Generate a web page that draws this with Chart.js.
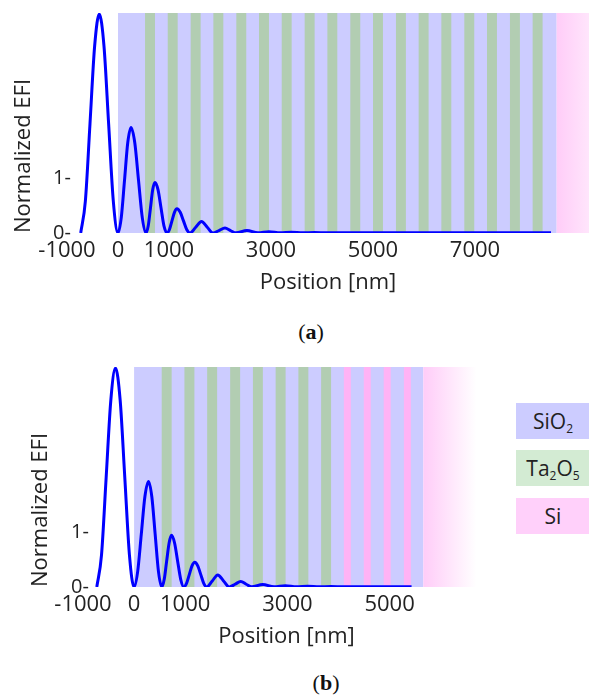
<!DOCTYPE html>
<html>
<head>
<meta charset="utf-8">
<script src="https://cdn.jsdelivr.net/npm/chart.js@4.4.0/dist/chart.umd.min.js"></script>
<style>
  body { margin: 0; background: #fff; width: 589px; height: 698px; position: relative; overflow: hidden; font-family: 'Open Sans', sans-serif; }
  .panel { position: absolute; left: 0; }
  .cap { position: absolute; font-family: 'Liberation Serif', serif; font-size: 22px; color: #111; transform: translateX(-50%); line-height: 24px; }
  .leg { position: absolute; left: 516px; width: 74px; height: 36px; line-height: 36px; text-align: center; font-size: 21px; color: #222; }
  .leg sub { font-size: 12px; vertical-align: -4px; line-height: 0; }
</style>
</head>
<body>
<canvas id="chart-a" class="panel" style="top:0" width="589" height="300"></canvas>
<canvas id="chart-b" class="panel" style="top:354px" width="490" height="300"></canvas>
<div class="cap" style="left:311px;top:320px">(<b>a</b>)</div>
<div class="cap" style="left:326px;top:671px">(<b>b</b>)</div>
<div class="leg" style="top:403px;background:#ccccff">SiO<sub>2</sub></div>
<div class="leg" style="top:450px;background:#d3ebd3">Ta<sub>2</sub>O<sub>5</sub></div>
<div class="leg" style="top:498px;background:#ffd0fa">Si</div>
<script>
// --- Data (positions in nm) ---

// panel (a)
const posA = [-731, -640, -549, -458, -367, -275, -184, -92,
  0, 64, 128, 191, 255, 329, 402, 476,
  549, 593, 637, 681, 725, 784, 843, 901,
  960, 1009, 1058, 1107, 1156, 1220, 1284, 1347,
  1411, 1524, 1637, 1750,
  1862, 1980, 2097, 2205,
  2313, 2528, 2744, 2960, 3180, 3400, 3620, 3850, 4100, 8490];
const efiA = [0, 0.58, 1.99, 3.4, 3.98, 3.4, 1.99, 0.58,
  0, 0.28, 0.96, 1.64, 1.92, 1.64, 0.96, 0.28,
  0, 0.13, 0.46, 0.79, 0.92, 0.79, 0.46, 0.13,
  0, 0.064, 0.22, 0.376, 0.44, 0.376, 0.22, 0.064,
  0, 0.105, 0.21, 0.105,
  0, 0.045, 0.09, 0.045,
  0.003, 0.045, 0.003, 0.022, 0.003, 0.012, 0.003, 0.007, 0.003, 0.003];
const xTicksA = [-1000, 0, 1000, 3000, 5000, 7000];
const sio2A = [0, 8600];
const ta2o5A = [530, 975, 1425, 1870, 2320, 2765, 3210, 3660, 4105, 4555, 5000, 5450, 5895, 6340, 6790, 7235, 7685, 8130];
const siLayersA = [];
const substrateA = [8600, 9900];

// panel (b)
const posB = [-730, -638, -547, -455, -364, -273, -182, -91,
  0, 70, 141, 211, 282, 347, 412, 477,
  542, 590, 637, 685, 732, 792, 852, 912,
  972, 1026, 1080, 1133, 1187, 1246, 1305, 1363,
  1422, 1530, 1637, 1750,
  1862, 1975, 2087, 2194,
  2300, 2517, 2740, 2960, 3180, 3400, 3620, 3850, 4100, 5430];
const efiB = [0, 0.58, 1.99, 3.4, 3.98, 3.4, 1.99, 0.58,
  0, 0.28, 0.96, 1.64, 1.92, 1.64, 0.96, 0.28,
  0, 0.14, 0.47, 0.8, 0.94, 0.8, 0.47, 0.14,
  0, 0.066, 0.225, 0.384, 0.45, 0.384, 0.225, 0.066,
  0, 0.11, 0.22, 0.11,
  0, 0.05, 0.1, 0.05,
  0.003, 0.045, 0.003, 0.022, 0.003, 0.012, 0.003, 0.007, 0.003, 0.003];
const xTicksB = [-1000, 0, 1000, 3000, 5000];
const sio2B = [0, 5660];
const ta2o5B = [540, 985, 1430, 1880, 2325, 2770, 3215, 3660];
const siLayersB = [4105, 4495, 4885, 5280];
const substrateB = [5660, 6700];

const yTicks = [0, 1];
const TA_THICK = 195;
const SI_THICK = 137;

const FONT = "'Open Sans', sans-serif";
const TEXT = '#222';

// --- Layer bands, drawn behind the curve ---
const bandsPlugin = {
  id: 'bands',
  beforeDatasetsDraw(chart, args, opts) {
    const { ctx, chartArea: a, scales: { x } } = chart;
    const rect = (from, to, fill) => {
      const x0 = x.getPixelForValue(from);
      const x1 = x.getPixelForValue(to);
      ctx.fillStyle = fill;
      ctx.fillRect(x0, a.top, x1 - x0, a.bottom - a.top);
    };
    ctx.save();
    ctx.beginPath();
    ctx.rect(a.left, a.top, a.right - a.left, a.bottom - a.top);
    ctx.clip();
    rect(opts.sio2[0], opts.sio2[1], '#ccccff');
    opts.ta2o5.forEach(s => rect(s, s + TA_THICK, '#b2cdb2'));
    opts.si.forEach(s => rect(s, s + SI_THICK, '#ffb3f5'));
    const g0 = x.getPixelForValue(opts.substrate[0]);
    const g1 = x.getPixelForValue(opts.substrate[1]);
    const grad = ctx.createLinearGradient(g0, 0, g1, 0);
    grad.addColorStop(0, '#ffccf8');
    grad.addColorStop(1, '#ffffff');
    rect(opts.substrate[0], opts.substrate[1], grad);
    ctx.restore();
  }
};

function makeChart(id, pos, efi, c) {
  return new Chart(document.getElementById(id), {
    type: 'line',
    data: {
      datasets: [{
        data: pos.map((p, i) => ({ x: p, y: efi[i] })),
        borderColor: '#0000ff',
        borderWidth: 3,
        pointRadius: 0,
        fill: false,
        cubicInterpolationMode: 'monotone'
      }]
    },
    options: {
      responsive: false,
      animation: false,
      layout: { padding: { top: 13, left: 0, right: 0, bottom: 0 } },
      plugins: {
        legend: { display: false },
        tooltip: { enabled: false },
        bands: { sio2: c.sio2, ta2o5: c.ta2o5, si: c.si, substrate: c.substrate }
      },
      scales: {
        x: {
          type: 'linear',
          min: -1000,
          max: c.xMax,
          afterBuildTicks: s => { s.ticks = c.xTicks.map(v => ({ value: v })); },
          afterFit: s => { s.height = 67; },
          grid: { display: false, drawTicks: false },
          border: { display: false },
          ticks: { padding: 5, autoSkip: false, maxRotation: 0, font: { size: 22, family: FONT }, color: TEXT, callback: v => String(v) },
          title: { display: true, text: 'Position [nm]', font: { size: 22, family: FONT }, color: TEXT, padding: { top: 0, bottom: 4 } }
        },
        y: {
          min: 0,
          max: 4,
          afterBuildTicks: s => { s.ticks = yTicks.map(v => ({ value: v })); },
          afterFit: s => { s.width = c.left; },
          grid: { display: false, drawTicks: false },
          border: { display: false },
          // mirrored so the "0-" / "1-" labels can reach past the axis edge
          ticks: { mirror: true, padding: c.tickPad, font: { size: 20, family: FONT }, color: TEXT, callback: v => v + '-' },
          title: { display: true, text: 'Normalized EFI', align: 'start', font: { size: 22, family: FONT }, color: TEXT, padding: { top: c.titlePad, bottom: 0 } }
        }
      }
    },
    plugins: [bandsPlugin]
  });
}

makeChart('chart-a', posA, efiA, {
  left: 67, xMax: 9235, xTicks: xTicksA, tickPad: -14, titlePad: 11,
  sio2: sio2A, ta2o5: ta2o5A, si: siLayersA, substrate: substrateA
});
makeChart('chart-b', posB, efiB, {
  left: 83, xMax: 6965, xTicks: xTicksB, tickPad: -12, titlePad: 28,
  sio2: sio2B, ta2o5: ta2o5B, si: siLayersB, substrate: substrateB
});
</script>
</body>
</html>
